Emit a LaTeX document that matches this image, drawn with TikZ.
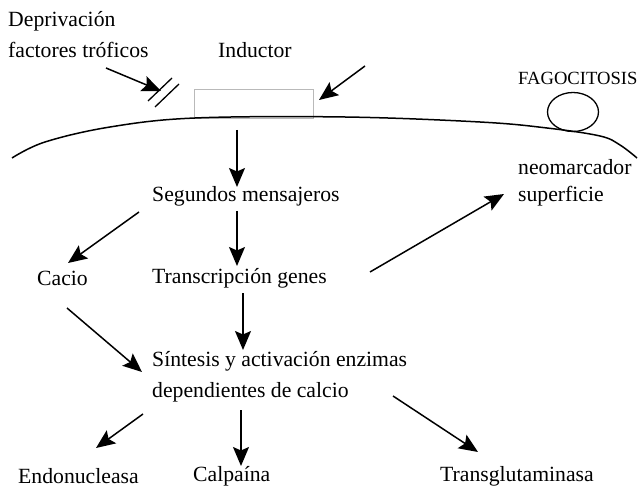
\documentclass[tikz,border=0pt]{standalone}
\usepackage{fontspec}
\setmainfont{Liberation Serif}
\usetikzlibrary{arrows.meta,shapes.geometric}
\begin{document}
\begin{tikzpicture}[x=1pt,y=-1pt,
  lbl/.style={inner sep=0pt,anchor=west,font=\fontsize{21.7}{24}\selectfont},
  arr/.style={line width=1.5pt,-{Stealth[length=19pt,width=16pt,inset=3.5pt]}},
  memb/.style={line width=1.5pt},
  slash/.style={line width=1.3pt}]
\useasboundingbox (0,0) rectangle (638,492);
% texts
\node[lbl] (dep1) at (8,21) {Deprivación};
\node[lbl] (dep2) at (8,50) {factores tróficos};
\node[lbl] (ind) at (218,50) {Inductor};
\node[inner sep=0pt,anchor=west,font=\fontsize{18.6}{20}\selectfont] (fago) at (518,78) {FAGOCITOSIS};
\node[lbl] (neo1) at (518,167) {neomarcador};
\node[lbl] (neo2) at (518,196) {superficie};
\node[lbl] (seg) at (152,196) {Segundos mensajeros};
\node[lbl] (cac) at (37,278) {Cacio};
\node[lbl] (tra) at (152,278) {Transcripción genes};
\node[lbl] (sin1) at (152,361) {Síntesis y activación enzimas};
\node[lbl] (sin2) at (152,392) {dependientes de calcio};
\node[lbl] (endo) at (18,476) {Endonucleasa};
\node[lbl] (calp) at (193,476) {Calpaína};
\node[lbl] (trg) at (440,476) {Transglutaminasa};
% receptor box and membrane
\node[draw=gray!55,line width=0.6pt,minimum width=119pt,minimum height=29pt,inner sep=0pt,anchor=north west] (box) at (194,89) {};
\draw[memb] plot[smooth,tension=0.6] coordinates {(12,158) (45,142) (110,127) (195,118) (345,117) (480,122) (547,128) (600,136) (620,145) (637,158)};
\node[draw,ellipse,line width=1.3pt,minimum width=51pt,minimum height=39pt,inner sep=0pt] (cell) at (573,112) {};
% arrow endpoints
\coordinate (a1s) at (106,68);  \coordinate (a1e) at (161,91);
\coordinate (a2s) at (365,66);  \coordinate (a2e) at (319,100);
\coordinate (a3s) at (237,130); \coordinate (a3e) at (237,187);
\coordinate (a4s) at (139,212); \coordinate (a4e) at (68,263);
\coordinate (a5s) at (237,211); \coordinate (a5e) at (237,266);
\coordinate (a6s) at (370,272); \coordinate (a6e) at (504,194);
\coordinate (a7s) at (67,308);  \coordinate (a7e) at (142,372);
\coordinate (a8s) at (243,293); \coordinate (a8e) at (243,350);
\coordinate (a9s) at (143,414); \coordinate (a9e) at (96,448);
\coordinate (a10s) at (241,410); \coordinate (a10e) at (241,466);
\coordinate (a11s) at (393,396); \coordinate (a11e) at (478,452);
\draw[arr] (a1s) -- (a1e);
\draw[slash] (148,101) -- (172,78);
\draw[slash] (155,107) -- (179,84);
\draw[arr] (a2s) -- (a2e);
\draw[arr] (a3s) -- (a3e);
\draw[arr] (a4s) -- (a4e);
\draw[arr] (a5s) -- (a5e);
\draw[arr] (a6s) -- (a6e);
\draw[arr] (a7s) -- (a7e);
\draw[arr] (a8s) -- (a8e);
\draw[arr] (a9s) -- (a9e);
\draw[arr] (a10s) -- (a10e);
\draw[arr] (a11s) -- (a11e);
\end{tikzpicture}
\end{document}
